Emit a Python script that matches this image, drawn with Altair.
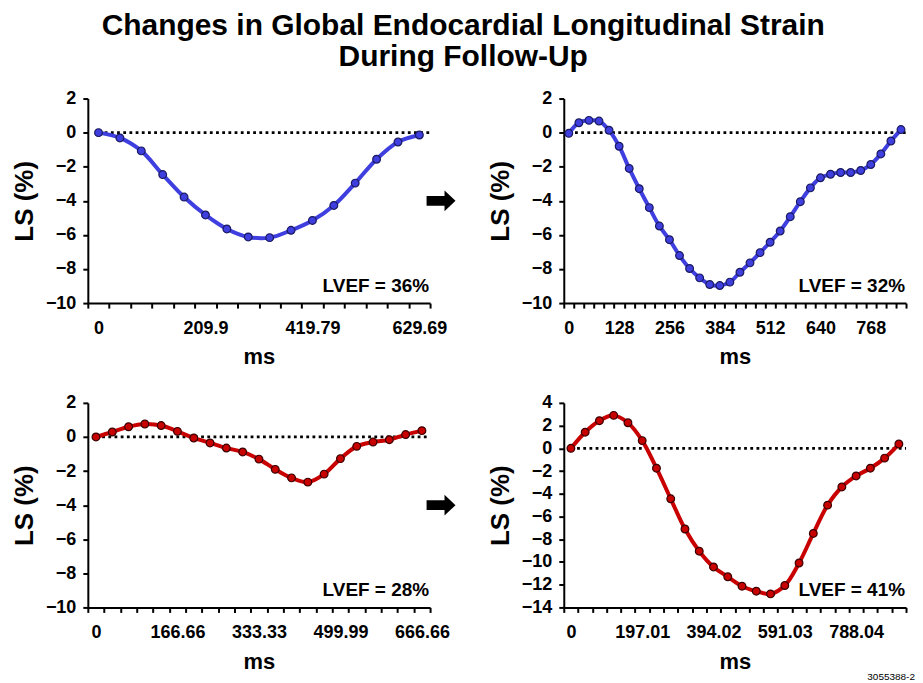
import altair as alt
import pandas as pd

FONT = "Liberation Sans"

# ---- data ----
p1_ls = [0.0, -0.31, -1.07, -2.46, -3.78, -4.83, -5.65, -6.12, -6.16, -5.73,
         -5.15, -4.27, -2.96, -1.56, -0.55, -0.14]
p1_labels = ["0", "209.9", "419.79", "629.69"]

p2_ls = [-0.04, 0.58, 0.72, 0.68, 0.14, -0.80, -2.10, -3.29, -4.40, -5.48,
         -6.28, -7.21, -7.97, -8.52, -8.91, -8.97, -8.77, -8.19, -7.64, -7.04,
         -6.43, -5.77, -4.93, -4.05, -3.24, -2.65, -2.44, -2.34, -2.34, -2.22,
         -1.87, -1.25, -0.49, 0.18]
p2_labels = ["0", "128", "256", "384", "512", "640", "768"]

p3_ls = [0.0, 0.29, 0.60, 0.76, 0.67, 0.33, -0.06, -0.35, -0.65, -0.88,
         -1.30, -1.90, -2.40, -2.65, -2.18, -1.27, -0.55, -0.30, -0.16, 0.14,
         0.37]
p3_labels = ["0", "166.66", "333.33", "499.99", "666.66"]

p4_ls = [0.0, 1.42, 2.43, 2.90, 2.25, 0.68, -1.75, -4.44, -7.10, -9.05,
         -10.44, -11.30, -12.13, -12.57, -12.81, -12.07, -10.09, -7.49, -5.00,
         -3.40, -2.43, -1.75, -0.86, 0.38]
p4_labels = ["0", "197.01", "394.02", "591.03", "788.04"]

lvef = ["LVEF = 36%", "LVEF = 32%", "LVEF = 28%", "LVEF = 41%"]
label_every = 5

BLUE, BLUE_EDGE = "#3f3fe0", "#1a1a60"
RED, RED_EDGE = "#c80000", "#3a0000"

ARROW = "M -1 -0.34 L 0.24 -0.34 L 0.24 -0.72 L 1 0 L 0.24 0.72 L 0.24 0.34 L -1 0.34 Z"


def panel(values, labels, ydom, color, edge, note, width, height,
          arrow=False, footnote=None):
    n = len(values)
    df = pd.DataFrame({"i": list(range(n)), "ls": values})
    zero = pd.DataFrame({"x": [0], "x2": [n - 0.5], "y": [0]})

    tick_vals = [k - 0.5 for k in range(n + 1)] + list(range(0, n, label_every))
    arr = "[" + ",".join("'" + s + "'" for s in labels) + "]"
    xaxis = alt.Axis(
        values=tick_vals,
        title="ms",
        labelExpr=f"datum.value % {label_every} == 0 ? {arr}[datum.value/{label_every}] : ''",
        tickOpacity={"condition": {"test": "datum.value % 1 == 0", "value": 0}, "value": 1},
        labelOverlap=False,
        labelFlush=False,
        labelBound=False,
        labelPadding=11,
        titlePadding=10,
        titleFontSize=22,
    )
    yaxis = alt.Axis(
        values=list(range(int(ydom[0]), int(ydom[1]) + 1, 2)),
        title="LS (%)",
        labelPadding=7,
        titlePadding=8,
        titleFontSize=26,
    )
    xs = alt.Scale(domain=[-0.5, n - 0.5], nice=False, zero=False)
    ys = alt.Scale(domain=ydom, nice=False, zero=False)

    base = alt.Chart(df)
    rule = alt.Chart(zero).mark_rule(
        color="black", strokeWidth=2.8, strokeDash=[2.8, 3.4]
    ).encode(
        x=alt.X("x:Q", scale=xs, axis=xaxis),
        x2="x2:Q",
        y=alt.Y("y:Q", scale=ys, axis=yaxis),
    )
    line = base.mark_line(color=color, strokeWidth=4, interpolate="catmull-rom").encode(
        x=alt.X("i:Q", scale=xs, axis=xaxis),
        y=alt.Y("ls:Q", scale=ys, axis=yaxis),
    )
    pts = base.mark_point(
        shape="circle", filled=True, fill=color, stroke=edge, strokeWidth=1.2,
        size=60, opacity=1,
    ).encode(
        x=alt.X("i:Q", scale=xs, axis=xaxis),
        y=alt.Y("ls:Q", scale=ys, axis=yaxis),
    )
    txt = alt.Chart(df).mark_text(
        align="right", baseline="alphabetic", font=FONT, fontSize=19,
        fontWeight="bold", color="black",
    ).encode(
        x=alt.value(width - 1), y=alt.value(height - 11), text=alt.value(note)
    ).transform_filter("datum.i == 0")
    layers = [rule, line, pts, txt]
    if arrow:
        layers.append(
            alt.Chart(df).mark_point(
                shape=ARROW, filled=True, color="black", size=841, opacity=1
            ).encode(x=alt.value(width + 11), y=alt.value(height / 2))
            .transform_filter("datum.i == 0")
        )
    if footnote:
        layers.append(
            alt.Chart(df).mark_text(
                align="right", baseline="alphabetic", font=FONT, fontSize=10,
                color="black",
            ).encode(x=alt.value(width + 9), y=alt.value(height + 73),
                     text=alt.value(footnote))
            .transform_filter("datum.i == 0")
        )
    return alt.layer(*layers).properties(width=width, height=height)


W1, W2, H = 343, 343, 205
c1 = panel(p1_ls, p1_labels, [-10, 2], BLUE, BLUE_EDGE, lvef[0], W1, H, arrow=True)
c2 = panel(p2_ls, p2_labels, [-10, 2], BLUE, BLUE_EDGE, lvef[1], W2, H)
c3 = panel(p3_ls, p3_labels, [-10, 2], RED, RED_EDGE, lvef[2], W1, H, arrow=True)
c4 = panel(p4_ls, p4_labels, [-14, 4], RED, RED_EDGE, lvef[3], W2, H,
           footnote="3055388-2")

chart = alt.concat(c1, c2, c3, c4, columns=2, spacing={"row": 26, "column": 31}).properties(
    title=alt.TitleParams(
        ["Changes in Global Endocardial Longitudinal Strain", "During Follow-Up"],
        font=FONT, fontSize=30, fontWeight="bold", color="black",
        anchor="middle", lineHeight=31, offset=18,
    ),
    padding={"left": 3, "top": 2, "right": 0, "bottom": 0},
).configure_view(stroke=None).configure_axis(
    labelFont=FONT, titleFont=FONT, labelFontSize=18, labelFontWeight="bold",
    titleFontWeight="bold", labelColor="black", titleColor="black",
    domainColor="black", domainWidth=2, tickColor="black", tickWidth=2,
    tickSize=5, grid=False,
)

chart.save("out.html", embed_options={"renderer": "svg", "actions": False})
